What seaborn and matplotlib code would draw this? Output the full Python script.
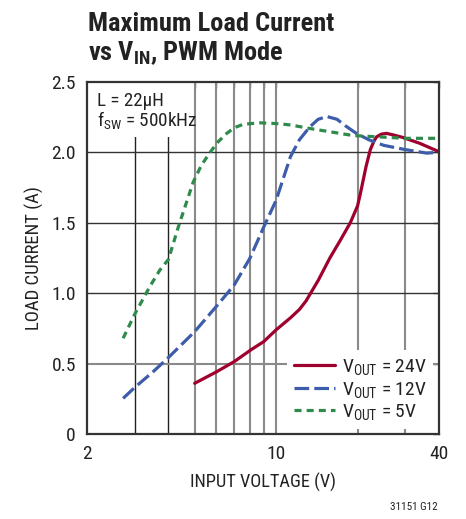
import numpy as np
import pandas as pd
import matplotlib
matplotlib.use("Agg")
import matplotlib.pyplot as plt
from matplotlib import font_manager
from matplotlib.patches import Rectangle
import seaborn as sns

# ---- data ----
series_labels = ["24V", "12V", "5V"]

vin_24 = [5.0, 6.0, 7.0, 8.1, 9.0, 10.0, 11.3, 12.2, 12.9, 14.3, 15.8, 17.2, 18.8, 20.0, 20.5,
          21.5, 22.3, 23.0, 23.5, 24.5, 25.6, 27.0, 29.3, 33.9, 40.0]
iload_24 = [0.36, 0.44, 0.514, 0.60, 0.656, 0.74, 0.825, 0.885, 0.945, 1.09, 1.25, 1.37, 1.50, 1.62, 1.71,
            1.90, 2.02, 2.08, 2.11, 2.13, 2.135, 2.125, 2.107, 2.065, 2.005]

vin_12 = [2.72, 3.0, 3.5, 3.97, 5.0, 6.0, 7.0, 8.0, 9.0, 10.0, 11.3, 12.2, 13.3, 14.3,
          15.4, 16.8, 18.0, 19.8, 22.0, 25.0, 30.0, 36.0, 39.5]
iload_12 = [0.253, 0.33, 0.44, 0.537, 0.727, 0.904, 1.058, 1.248, 1.47, 1.66, 1.97, 2.09,
            2.18, 2.235, 2.255, 2.235, 2.19, 2.135, 2.09, 2.05, 2.02, 1.995, 2.0]

vin_5 = [2.72, 3.0, 3.42, 3.72, 4.0, 4.35, 4.94, 5.3, 5.7, 6.1, 6.57, 7.0, 7.57, 8.72, 10.0, 11.3,
         13.3, 16.0, 19.2, 24.0, 30.0, 40.0]
iload_5 = [0.68, 0.85, 1.05, 1.165, 1.24, 1.47, 1.79, 1.91, 2.0, 2.075, 2.135, 2.175, 2.20, 2.21, 2.205,
           2.195, 2.17, 2.145, 2.12, 2.11, 2.10, 2.10]

x_major = [2, 10, 40]
x_major_labels = ["2", "10", "40"]
x_minor = [3, 4, 5, 6, 7, 8, 9, 20, 30]
y_ticks = [0, 0.5, 1.0, 1.5, 2.0, 2.5]
y_tick_labels = ["0", "0.5", "1.0", "1.5", "2.0", "2.5"]

# ---- fonts ----
names = {f.name for f in font_manager.fontManager.ttflist}
prefs = ["Nimbus Sans Narrow", "Liberation Sans Narrow", "Roboto Condensed",
         "Archivo Narrow", "PT Sans Narrow", "Fira Sans Condensed",
         "IBM Plex Sans Condensed", "Asap Condensed", "Liberation Sans"]
fam = next(p for p in prefs if p in names)

sns.set_theme(style="white")
plt.rcParams["font.family"] = [fam, "DejaVu Sans"]
plt.rcParams["mathtext.fontset"] = "custom"
plt.rcParams["mathtext.rm"] = fam
plt.rcParams["mathtext.it"] = fam
plt.rcParams["mathtext.bf"] = fam + ":bold"
plt.rcParams["text.color"] = "#222222"

df = pd.concat([
    pd.DataFrame({"vin": vin_24, "iload": iload_24, "series": "24V"}),
    pd.DataFrame({"vin": vin_12, "iload": iload_12, "series": "12V"}),
    pd.DataFrame({"vin": vin_5, "iload": iload_5, "series": "5V"}),
])

palette = {"24V": "#A0002D", "12V": "#3D5CAA", "5V": "#2E8B4B"}
dashes = {"24V": "", "12V": (4.6, 1.6), "5V": (2.2, 1.6)}

fig = plt.figure(figsize=(4.66, 5.19), dpi=100)
ax = fig.add_axes([87 / 466, 85 / 519, 352 / 466, 352 / 519])
ax.set_xscale("log")

# grid lines
for xv in x_minor + [10]:
    col = "#222222" if xv in (3, 4) else "#8a8a8a"
    lw = 1.0 if xv in (3, 4) else 1.5
    ax.axvline(xv, color=col, lw=lw, zorder=1)
for yv in [0.5, 1.0, 1.5, 2.0]:
    col = "#8a8a8a" if yv == 0.5 else "#333333"
    lw = 1.5 if yv == 0.5 else 1.0
    ax.axhline(yv, color=col, lw=lw, zorder=1)

sns.lineplot(data=df, x="vin", y="iload", hue="series", style="series",
             hue_order=series_labels, style_order=series_labels,
             palette=palette, dashes=dashes, lw=2.3, estimator=None,
             ax=ax, zorder=3)

ax.set_xlim(2, 40)
ax.set_ylim(0, 2.5)
ax.set_xticks(x_major)
ax.set_xticklabels(x_major_labels)
ax.set_xticks(x_minor, minor=True)
ax.set_xticklabels([""] * len(x_minor), minor=True)
ax.set_yticks(y_ticks)
ax.set_yticklabels(y_tick_labels)
ax.tick_params(axis="both", which="both", direction="in", top=True, right=True,
               length=4, width=1, color="#555555", labelsize=14, pad=8,
               labelcolor="#222222")
ax.tick_params(axis="x", which="major", pad=8)
for s in ax.spines.values():
    s.set_color("#333333")
    s.set_linewidth(1.6)
    s.set_zorder(4)

ax.set_xlabel("INPUT VOLTAGE (V)", fontsize=13.2, labelpad=7, color="#222222")
ax.set_ylabel("LOAD CURRENT (A)", fontsize=13.5, labelpad=5, color="#222222")

# annotation box top-left
ax.add_patch(Rectangle((0, 0.845), 0.29, 0.155, transform=ax.transAxes,
                       facecolor="white", edgecolor="none", zorder=2))
ax.text(0.028, 0.932, "L = 22µH", transform=ax.transAxes, fontsize=13.6,
        va="baseline", ha="left", zorder=3)
ax.text(0.028, 0.875, r"f$_{\mathrm{SW}}$ = 500kHz", transform=ax.transAxes, fontsize=13.8,
        va="baseline", ha="left", zorder=3)

# legend
handles, labels = ax.get_legend_handles_labels()
lab_map = {"24V": r"V$_{\mathrm{OUT}}$ = 24V", "12V": r"V$_{\mathrm{OUT}}$ = 12V",
           "5V": r"V$_{\mathrm{OUT}}$ = 5V"}
hl = [(h, lab_map[l]) for h, l in zip(handles, labels) if l in lab_map]
leg = ax.legend([h for h, _ in hl], [l for _, l in hl], loc="lower right",
                bbox_to_anchor=(0.983, 0.014), frameon=True, fontsize=14,
                handlelength=2.1, handletextpad=0.36, labelspacing=0.13,
                borderpad=0.35, borderaxespad=0.0, fancybox=False)
leg.get_frame().set_facecolor("white")
leg.get_frame().set_edgecolor("none")
leg.get_frame().set_alpha(1.0)
leg.set_zorder(2)
for line in leg.get_lines():
    line.set_linewidth(2.3)

# title
fig.text(88 / 466, 1 - 31 / 519, "Maximum Load Current", fontsize=19,
         fontweight="bold", ha="left", va="baseline", color="#222222")
fig.text(88 / 466, 1 - 60 / 519, r"vs V$_{\mathbf{IN}}$, PWM Mode", fontsize=19,
         fontweight="bold", ha="left", va="baseline", color="#222222")

fig.text(438 / 466, 9 / 519, "31151 G12", fontsize=8, ha="right", va="baseline",
         color="#222222")

fig.savefig("out.png", dpi=100)
